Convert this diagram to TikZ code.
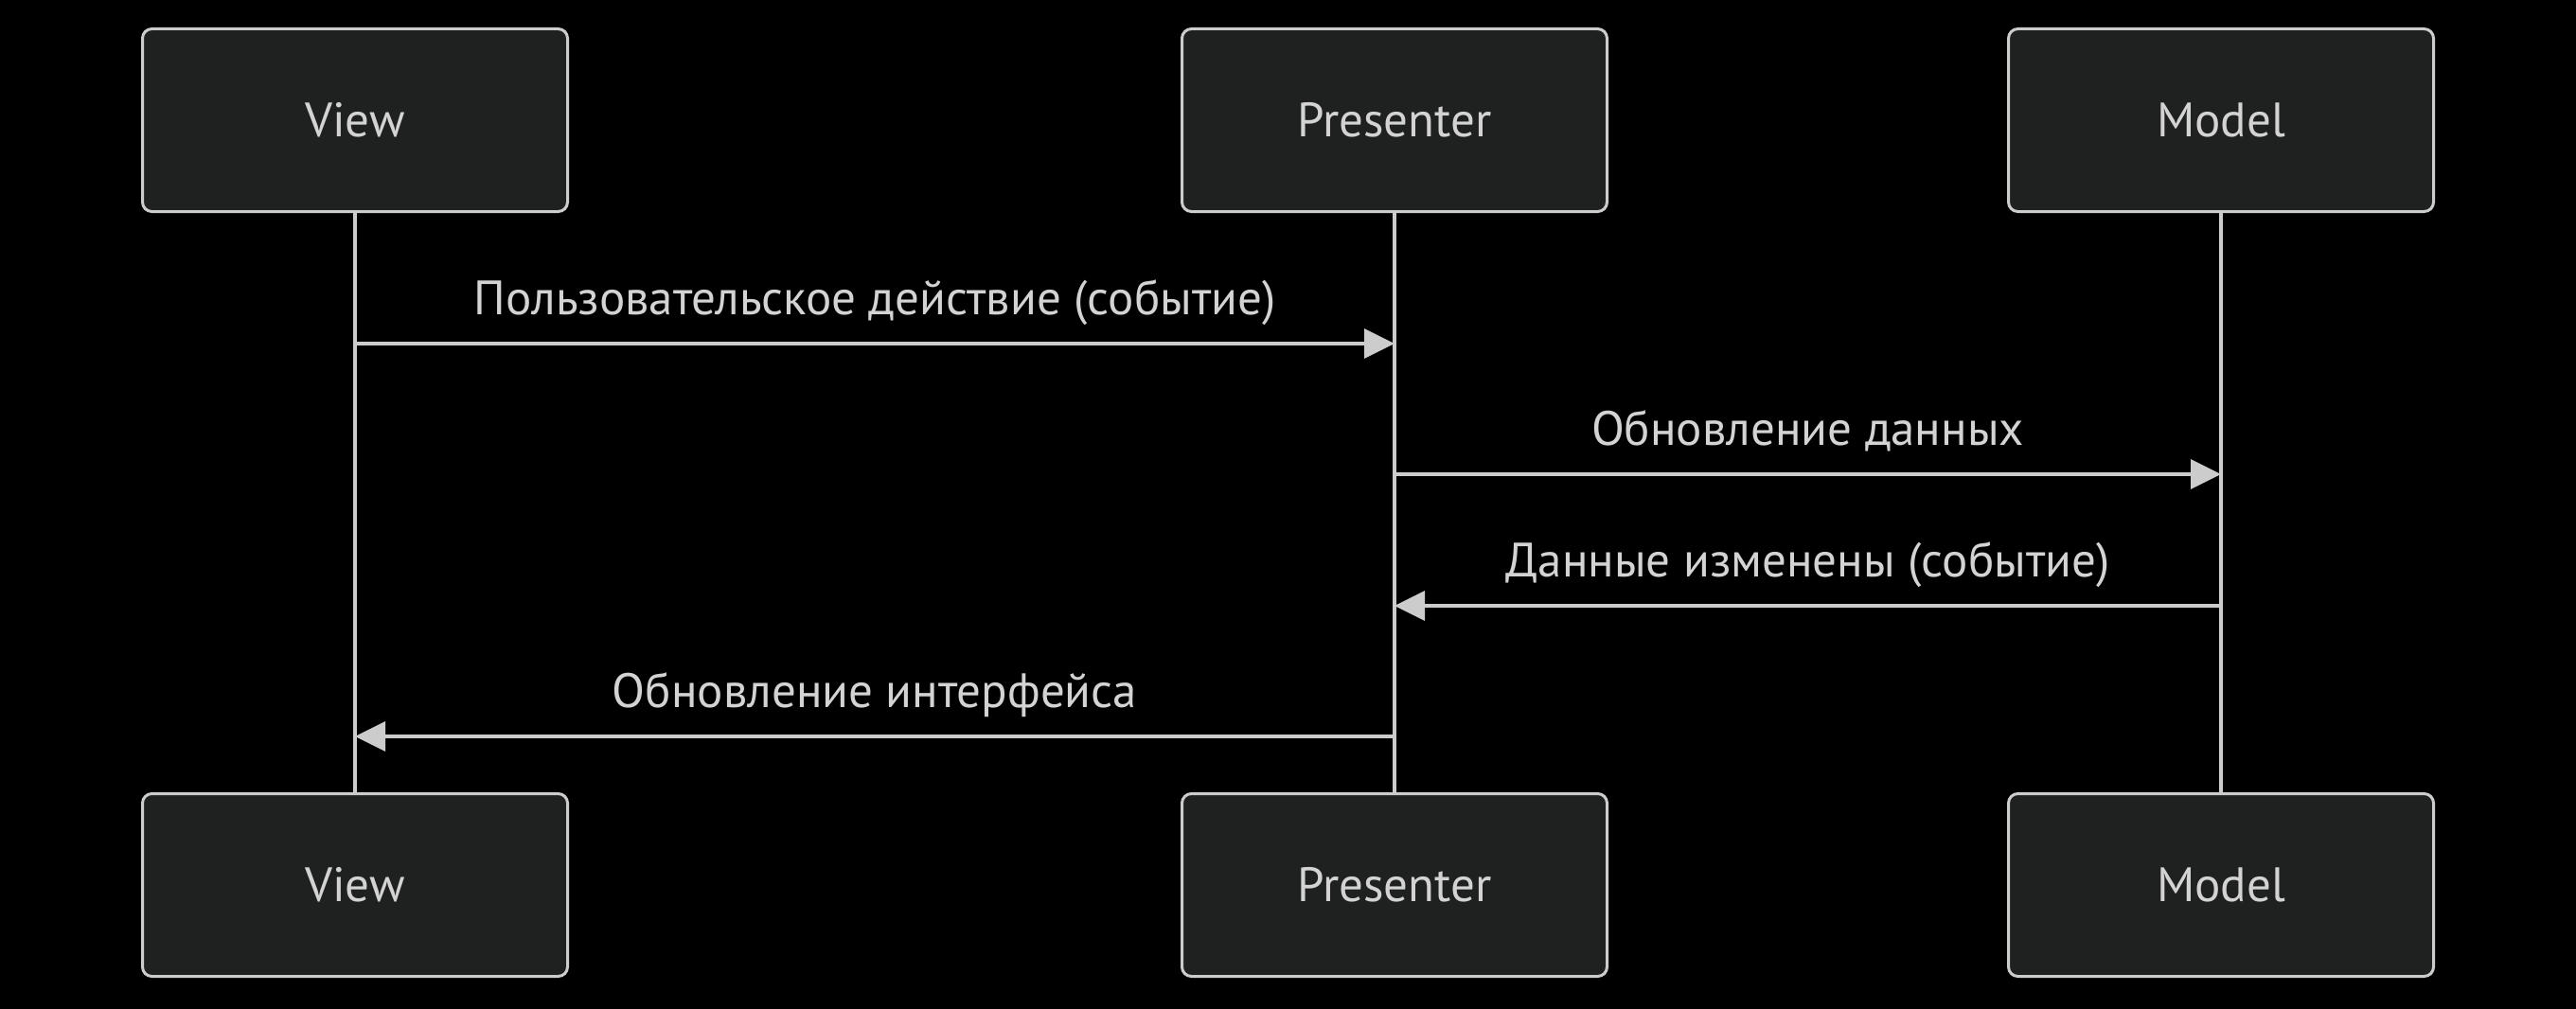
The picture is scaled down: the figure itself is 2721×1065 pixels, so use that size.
\documentclass[tikz,border=0pt]{standalone}
\usepackage{fontspec}
\setmainfont{PT Sans}
\usetikzlibrary{arrows.meta}
\definecolor{bgc}{HTML}{000000}
\definecolor{boxfill}{HTML}{1F2020}
\definecolor{linec}{HTML}{CCCCCC}
\definecolor{txtc}{HTML}{D3D3D3}
\begin{document}
\begin{tikzpicture}[x=1pt,y=-1pt,
  actor/.style={draw=linec, fill=boxfill, line width=3pt, rounded corners=10pt,
    minimum width=449pt, minimum height=193pt, inner sep=0pt, text=txtc,
    font=\fontsize{51}{58}\selectfont},
  life/.style={draw=linec, line width=4pt},
  msg/.style={draw=linec, line width=3.5pt, -{Triangle[length=32pt,width=31pt]}},
  lbl/.style={text=txtc, font=\fontsize{51}{58}\selectfont, anchor=base, inner sep=0pt}]
\useasboundingbox (0,0) rectangle (2721,1065);
\fill[bgc] (-10,-10) rectangle (2731,1075);
% top actors
\node[actor] (vT) at (375,127) {View};
\node[actor] (pT) at (1473,127) {Presenter};
\node[actor] (mT) at (2346,127) {Model};
% bottom actors
\node[actor] (vB) at (375,935) {View};
\node[actor] (pB) at (1473,935) {Presenter};
\node[actor] (mB) at (2346,935) {Model};
% lifelines
\draw[life] (vT.south) -- (vB.north);
\draw[life] (pT.south) -- (pB.north);
\draw[life] (mT.south) -- (mB.north);
% message anchor points
\coordinate (v1) at (vT.south |- 0,363);
\coordinate (p1) at (pT.south |- 0,363);
\coordinate (p2) at (pT.south |- 0,501);
\coordinate (m2) at (mT.south |- 0,501);
\coordinate (m3) at (mT.south |- 0,640);
\coordinate (p3) at (pT.south |- 0,640);
\coordinate (p4) at (pT.south |- 0,778);
\coordinate (v4) at (vT.south |- 0,778);
\draw[msg] (v1) -- (p1);
\draw[msg] (p2) -- (m2);
\draw[msg] (m3) -- (p3);
\draw[msg] (p4) -- (v4);
\node[lbl] (l1) at (924,332) {Пользовательское действие (событие)};
\node[lbl] (l2) at (1909.5,470) {Обновление данных};
\node[lbl] (l3) at (1909.5,609) {Данные изменены (событие)};
\node[lbl] (l4) at (924,747) {Обновление интерфейса};
\end{tikzpicture}
\end{document}
